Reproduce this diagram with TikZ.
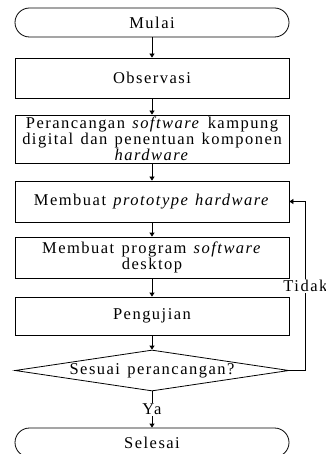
\documentclass[tikz,border=0pt]{standalone}
\usepackage{fontspec}
\setmainfont{Liberation Serif}[LetterSpace=9, WordSpace=1.3]
\usepackage{tikz}
\usetikzlibrary{arrows.meta,shapes.geometric}

\begin{document}
\begin{tikzpicture}[
  x=1pt, y=-1pt,
  terminal/.style={draw, thick, rounded corners=14.5pt, minimum width=274pt, minimum height=29pt, inner sep=0pt},
  process/.style={draw, thick, minimum width=274pt, inner sep=0pt, align=center},
  decision/.style={draw, thick, diamond, aspect=6.7, minimum width=274pt, minimum height=41pt, inner sep=0pt},
  arrow/.style={-{Triangle[length=4pt, width=5pt]}, thick},
  answer/.style={fill=white, inner sep=1pt},
  font=\fontsize{16.5}{14}\selectfont
]
  \useasboundingbox (0,0) rectangle (325,454);

  \node[terminal] (mulai) at (152,22.5) {Mulai};
  \node[process, minimum height=40pt] (observasi) at (152,78) {Observasi};
  \node[process, minimum height=48pt] (rancang) at (152,139) {Perancangan \textit{software} kampung\\digital dan penentuan komponen\\\textit{hardware}};
  \node[process, minimum height=41pt] (prototipe) at (152,201.5) {Membuat \textit{prototype hardware}};
  \node[process, minimum height=41pt] (program) at (152,257.5) {Membuat program \textit{software}\\desktop};
  \node[process, minimum height=38pt] (uji) at (152,316) {Pengujian};
  \node[decision] (sesuai) at (152,370.5) {Sesuai perancangan?};
  \node[terminal] (selesai) at (152,442.5) {Selesai};

  \draw[arrow] (mulai) -- (observasi);
  \draw[arrow] (observasi) -- (rancang);
  \draw[arrow] (rancang) -- (prototipe);
  \draw[arrow] (prototipe) -- (program);
  \draw[arrow] (program) -- (uji);
  \draw[arrow] (uji) -- (sesuai);
  \draw[arrow] (sesuai) -- node[answer] {Ya} (selesai);
  \draw[arrow] (sesuai.east) -- ++(16,0) |- node[answer, pos=0.25] {Tidak} (prototipe.east);
\end{tikzpicture}
\end{document}
